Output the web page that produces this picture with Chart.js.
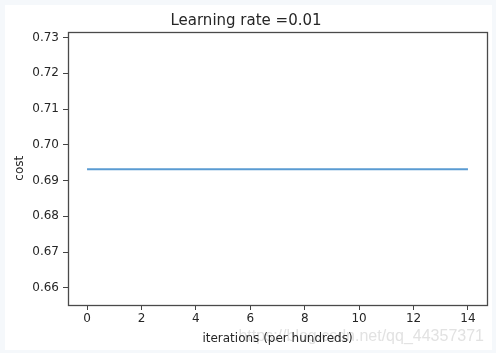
<!DOCTYPE html>
<html>
<head>
<meta charset="utf-8">
<script src="https://cdn.jsdelivr.net/npm/chart.js@4/dist/chart.umd.min.js"></script>
<style>
  html, body { margin: 0; padding: 0; background: #f5f8fb; }
  #wrap { width: 496px; height: 353px; position: relative; }
  canvas { display: block; }
</style>
</head>
<body>
<div id="wrap"><canvas id="c" width="496" height="353"></canvas></div>
<script>
// ---- data ----
const iterations = [0, 1, 2, 3, 4, 5, 6, 7, 8, 9, 10, 11, 12, 13, 14];
const costs = [0.693147, 0.693147, 0.693147, 0.693147, 0.693147, 0.693147, 0.693147, 0.693147,
               0.693147, 0.693147, 0.693147, 0.693147, 0.693147, 0.693147, 0.693147];
const xTickValues = [0, 2, 4, 6, 8, 10, 12, 14];
const yTickValues = [0.66, 0.67, 0.68, 0.69, 0.70, 0.71, 0.72, 0.73];
const titleText = 'Learning rate =0.01';
const xLabel = 'iterations (per hundreds)';
const yLabel = 'cost';
const watermark = 'https://blog.csdn.net/qq_44357371';

const FONT = 'DejaVu Sans';

const bgPlugin = {
  id: 'bg',
  beforeDraw(chart) {
    const ctx = chart.ctx;
    ctx.save();
    ctx.fillStyle = '#f5f8fb';
    ctx.fillRect(0, 0, chart.width, chart.height);
    ctx.fillStyle = '#ffffff';
    ctx.fillRect(5, 5, 487, 345);
    // watermark
    ctx.font = '16px "Liberation Sans"';
    ctx.fillStyle = '#e2e2e2';
    ctx.textAlign = 'right';
    ctx.textBaseline = 'alphabetic';
    ctx.fillText(watermark, 484, 341);
    ctx.restore();
  }
};

const framePlugin = {
  id: 'frame',
  afterDatasetsDraw(chart) {
    const a = chart.chartArea;
    const ctx = chart.ctx;
    ctx.save();
    ctx.strokeStyle = '#4a4a4a';
    ctx.lineWidth = 1.3;
    ctx.strokeRect(Math.round(a.left) + 0.5, Math.round(a.top) + 0.5,
                   Math.round(a.right) - Math.round(a.left), Math.round(a.bottom) - Math.round(a.top));
    ctx.restore();
  }
};

new Chart(document.getElementById('c'), {
  type: 'line',
  data: {
    datasets: [{
      data: iterations.map((x, i) => ({ x: x, y: costs[i] })),
      borderColor: '#5a9bd2',
      borderWidth: 2,
      pointRadius: 0,
      fill: false,
      tension: 0
    }]
  },
  options: {
    responsive: false,
    animation: false,
    layout: { padding: { left: 5, right: 9, top: 0, bottom: 0 } },
    plugins: {
      legend: { display: false },
      tooltip: { enabled: false },
      title: {
        display: true,
        text: titleText,
        color: '#262626',
        font: { family: FONT, size: 15, weight: 'normal' },
        padding: { top: 12, bottom: 1.5 }
      }
    },
    scales: {
      x: {
        type: 'linear',
        min: -0.7,
        max: 14.7,
        afterBuildTicks: (s) => { s.ticks = xTickValues.map(v => ({ value: v })); },
        afterFit: (s) => { s.height = 48; },
        ticks: {
          color: '#262626',
          font: { family: FONT, size: 12 },
          padding: 2,
          maxRotation: 0,
          callback: (v) => String(v)
        },
        grid: { display: true, drawOnChartArea: false, drawTicks: true, tickLength: 5, tickColor: '#444', tickWidth: 1 },
        border: { display: false },
        title: {
          display: true,
          text: xLabel,
          color: '#262626',
          font: { family: FONT, size: 12 },
          padding: { top: 0, bottom: 7 }
        }
      },
      y: {
        type: 'linear',
        min: 0.6552,
        max: 0.7317,
        afterBuildTicks: (s) => { s.ticks = yTickValues.map(v => ({ value: v })); },
        afterFit: (s) => { s.width = 63; },
        ticks: {
          color: '#262626',
          font: { family: FONT, size: 12 },
          padding: 4,
          callback: (v) => Number(v).toFixed(2)
        },
        grid: { display: true, drawOnChartArea: false, drawTicks: true, tickLength: 5, tickColor: '#444', tickWidth: 1 },
        border: { display: false },
        title: {
          display: true,
          text: yLabel,
          color: '#262626',
          font: { family: FONT, size: 12 },
          padding: { top: 8, bottom: 0 }
        }
      }
    }
  },
  plugins: [bgPlugin, framePlugin]
});
</script>
</body>
</html>
